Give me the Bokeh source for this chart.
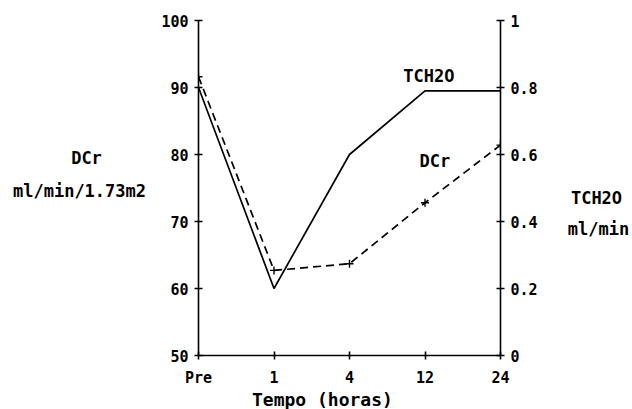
from bokeh.plotting import figure
from bokeh.models import Range1d, LinearAxis, FixedTicker, Label, CustomJSTickFormatter
from bokeh.layouts import row, column
from bokeh.embed import file_html
from bokeh.resources import INLINE

categories = ["Pre", "1", "4", "12", "24"]
positions = [0, 1, 2, 3, 4]
dcr = [91.6, 62.7, 63.7, 72.8, 81.4]
tch2o = [0.80, 0.20, 0.60, 0.79, 0.79]
left_ticks = [50, 60, 70, 80, 90, 100]
right_ticks = [0, 0.2, 0.4, 0.6, 0.8, 1]

FONT = "DejaVu Sans Mono"
W, H = 632, 409
LW, RW = 150, 92          # side text panels
MW = W - LW - RW          # main figure width
MH, BH = 389, 20          # main figure height, bottom text panel height
FL, FT, FR, FB = 198, 20, 500, 355  # frame edges in page pixels

def blank(width, height, x0, x1, y0, y1):
    f = figure(width=width, height=height, output_backend="svg", toolbar_location=None,
               x_range=Range1d(x0, x1), y_range=Range1d(y0, y1), min_border=0)
    f.axis.visible = False
    f.grid.visible = False
    f.outline_line_color = None
    return f

def lab(f, x, y, t, size="17px"):
    f.add_layout(Label(x=x, y=y, text=t, text_font=FONT, text_font_style="bold",
                       text_font_size=size, text_align="center", text_baseline="middle",
                       text_color="black"))

p = figure(width=MW, height=MH, output_backend="svg", toolbar_location=None,
           x_range=Range1d(0, 4), y_range=Range1d(50, 100),
           min_border_left=FL - LW, min_border_right=LW + MW - FR, min_border_top=FT,
           min_border_bottom=MH - FB)
p.extra_y_ranges = {"right": Range1d(0, 1)}
p.outline_line_color = None
p.xgrid.visible = False
p.ygrid.visible = False

def style(ax, size="15px"):
    ax.axis_line_color = "black"
    ax.axis_line_width = 1.6
    ax.major_tick_line_color = "black"
    ax.major_tick_line_width = 1.6
    ax.major_tick_in = 4
    ax.major_tick_out = 4
    ax.minor_tick_line_color = None
    ax.major_label_text_font = FONT
    ax.major_label_text_font_style = "bold"
    ax.major_label_text_font_size = size
    ax.major_label_text_color = "black"

p.xaxis.ticker = FixedTicker(ticks=positions)
p.xaxis.major_label_overrides = {pos: l for pos, l in zip(positions, categories)}
style(p.xaxis[0])
p.xaxis.major_label_standoff = 9

p.yaxis.ticker = FixedTicker(ticks=left_ticks)
style(p.yaxis[0])
p.yaxis.major_label_standoff = 6

ra = LinearAxis(y_range_name="right", ticker=FixedTicker(ticks=right_ticks),
                formatter=CustomJSTickFormatter(code="return (Math.round(tick*10)/10).toString();"))
style(ra)
ra.major_label_standoff = 6
p.add_layout(ra, "right")

p.line(positions, tch2o, y_range_name="right", line_color="black", line_width=1.7)
p.line(positions, dcr, line_color="black", line_width=1.7, line_dash="8 5")
p.scatter(positions, dcr, marker="cross", size=8, line_color="black", line_width=1.4)

lab(p, 3.05, 91.7, "TCH2O")
lab(p, 3.13, 79.1, "DCr")

# side panels use page-pixel coordinates (y downward)
left = blank(LW, H, 0, LW, H, 0)
lab(left, 86, 157, "DCr")
lab(left, 79, 190, "ml/min/1.73m2")

right = blank(RW, H, LW + MW, W, H, 0)
lab(right, 596, 197, "TCH2O")
lab(right, 598, 228, "ml/min")

bottom = blank(MW, BH, LW, LW + MW, H, MH)
lab(bottom, 310, 399, "Tempo (horas)", "18px")

layout = row(left, column(p, bottom, spacing=0), right, spacing=0)

open("out.html", "w").write(file_html(layout, INLINE))
